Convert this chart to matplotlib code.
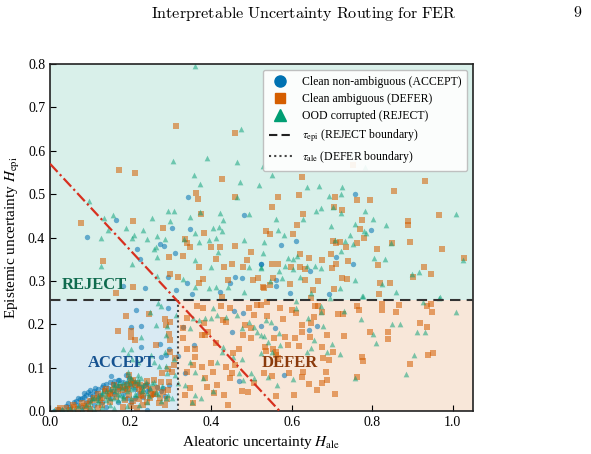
import matplotlib
matplotlib.use('Agg')
import matplotlib.pyplot as plt
from matplotlib.lines import Line2D

plt.rcParams['font.family'] = ['Liberation Serif', 'DejaVu Serif']
plt.rcParams['mathtext.fontset'] = 'stix'

# thresholds / boundary line
tau_epi = 0.255
tau_ale = 0.318
line_icept = 0.57

# Clean non-ambiguous (ACCEPT) - blue circles
accept_x = [0.342, 0.165, 0.481, 0.303, 0.347, 0.091, 0.273, 0.284, 0.311, 0.215, 0.223, 0.294, 0.339, 0.182,
            0.235, 0.314, 0.353, 0.422, 0.459, 0.476, 0.523, 0.447,
            0.758, 0.797, 0.611, 0.574, 0.711, 0.753, 0.646, 0.562, 0.561, 0.596, 0.692, 0.524,
            0.213, 0.292, 0.202, 0.226, 0.225, 0.273, 0.295, 0.289, 0.318, 0.329, 0.357, 0.151, 0.172, 0.189,
            0.240, 0.157, 0.132, 0.112, 0.099, 0.085, 0.070, 0.045, 0.281, 0.240, 0.451, 0.470, 0.480, 0.457,
            0.335, 0.275,
            0.558, 0.644, 0.662, 0.581, 0.524,
            0.02, 0.04, 0.06, 0.08, 0.09, 0.10, 0.11, 0.12, 0.13, 0.14, 0.15, 0.16, 0.17, 0.18, 0.19, 0.20,
            0.21, 0.22, 0.23, 0.05, 0.07, 0.09, 0.10, 0.12, 0.13, 0.15, 0.16, 0.17, 0.18, 0.19, 0.20, 0.03,
            0.01, 0.08, 0.11, 0.14, 0.17, 0.21, 0.24,
            0.105, 0.115, 0.125, 0.135, 0.145, 0.155, 0.165, 0.175, 0.185, 0.195, 0.205, 0.215, 0.225, 0.235,
            0.245, 0.255, 0.265, 0.275, 0.285, 0.295, 0.065, 0.075, 0.085, 0.095]
accept_y = [0.493, 0.440, 0.452, 0.423, 0.419, 0.402, 0.384, 0.380, 0.365, 0.373, 0.350, 0.310, 0.296, 0.288,
            0.284, 0.279, 0.270, 0.274, 0.310, 0.306, 0.339, 0.296,
            0.500, 0.417, 0.393, 0.382, 0.354, 0.340, 0.322, 0.302, 0.289, 0.273, 0.270, 0.339,
            0.233, 0.237, 0.193, 0.197, 0.148, 0.154, 0.144, 0.129, 0.127, 0.193, 0.152, 0.081, 0.071, 0.083,
            0.062, 0.062, 0.060, 0.054, 0.048, 0.041, 0.029, 0.018, 0.052, 0.002, 0.181, 0.070, 0.225, 0.231,
            0.087, 0.124,
            0.192, 0.187, 0.197, 0.083, 0.196,
            0.005, 0.012, 0.020, 0.030, 0.036, 0.040, 0.046, 0.050, 0.056, 0.062, 0.066, 0.070, 0.072, 0.068,
            0.064, 0.058, 0.050, 0.042, 0.032, 0.010, 0.015, 0.020, 0.025, 0.030, 0.020, 0.030, 0.040, 0.050,
            0.040, 0.030, 0.020, 0.003, 0.001, 0.010, 0.015, 0.010, 0.020, 0.030, 0.045,
            0.035, 0.042, 0.038, 0.048, 0.054, 0.045, 0.060, 0.058, 0.052, 0.075, 0.066, 0.062, 0.055, 0.060,
            0.050, 0.040, 0.056, 0.045, 0.035, 0.060, 0.024, 0.027, 0.033, 0.044]

# Clean ambiguous (DEFER) - orange squares
defer_x = [0.313, 0.460,
           0.172, 0.212, 0.428, 0.362, 0.368, 0.460, 0.375, 0.207, 0.076, 0.280, 0.382, 0.336, 0.339, 0.348,
           0.399, 0.422, 0.460, 0.498, 0.295, 0.331, 0.411, 0.131, 0.371, 0.433, 0.453, 0.478, 0.488, 0.517,
           0.503, 0.380, 0.369, 0.318, 0.299, 0.205, 0.529, 0.165, 0.428, 0.443,
           0.753, 0.626, 0.931, 0.567, 0.617, 0.708, 0.763, 0.795, 0.855, 0.550, 0.628, 0.704, 0.724, 0.966,
           0.888, 0.889, 0.774, 0.614, 0.537, 0.547, 0.604, 0.770, 0.780, 0.703, 0.710, 0.720, 0.736, 0.763,
           0.848, 0.894, 0.811, 0.974, 0.620, 0.644, 0.675, 0.698, 0.739, 0.710, 0.550, 0.567, 0.598, 0.620,
           0.632, 0.699, 0.814, 0.929, 0.945, 0.901, 0.666, 0.634, 0.726, 0.738, 0.595, 0.546, 0.530, 0.704,
           0.818, 0.845, 0.653, 0.817, 0.554, 1.027,
           0.188, 0.246, 0.286, 0.299, 0.170, 0.201, 0.201, 0.212, 0.289, 0.295, 0.298, 0.263, 0.298, 0.311,
           0.309, 0.277, 0.294, 0.303, 0.275, 0.296, 0.197, 0.259, 0.294, 0.273, 0.197, 0.226, 0.251, 0.285,
           0.261, 0.192, 0.182, 0.149, 0.207, 0.240, 0.256, 0.232, 0.215, 0.058, 0.025,
           0.329, 0.329, 0.339, 0.364, 0.380, 0.383, 0.386, 0.392, 0.339, 0.361, 0.356, 0.377, 0.385, 0.340,
           0.404, 0.414, 0.347, 0.356, 0.389, 0.408, 0.432, 0.441, 0.476, 0.491, 0.506, 0.447, 0.452, 0.459,
           0.470, 0.478, 0.484, 0.498, 0.506, 0.514, 0.495, 0.525, 0.448, 0.424, 0.430, 0.438, 0.500, 0.412,
           0.377, 0.361, 0.335, 0.399, 0.438, 0.455,
           0.538, 0.571, 0.600, 0.610, 0.579, 0.539, 0.625, 0.647, 0.655, 0.676, 0.666, 0.715, 0.728, 0.761,
           0.767, 0.825, 0.825, 0.859, 0.866, 0.935, 0.949, 0.945, 0.918, 0.935, 0.840, 0.840, 0.795, 0.730,
           0.688, 0.645, 0.625, 0.608, 0.619, 0.590, 0.556, 0.533, 0.535, 0.554, 0.562, 0.561, 0.567, 0.583,
           0.674, 0.703, 0.692, 0.677, 0.775, 0.776, 0.950, 0.939, 0.893, 0.629, 0.625, 0.594, 0.550, 0.532,
           0.685, 0.687, 0.675, 0.644, 0.662, 0.708, 0.606, 0.561, 0.763, 0.649, 0.658,
           0.02, 0.04, 0.06, 0.08, 0.10, 0.11, 0.12, 0.13, 0.14, 0.15, 0.16, 0.17, 0.18, 0.19, 0.20, 0.21,
           0.22, 0.23, 0.24, 0.25, 0.13, 0.09, 0.15, 0.18, 0.20, 0.22, 0.05, 0.07, 0.10, 0.12,
           0.207, 0.215, 0.223, 0.202, 0.194, 0.157, 0.136, 0.110, 0.125, 0.145, 0.165, 0.175, 0.185, 0.228,
           0.238, 0.248, 0.265, 0.270, 0.280, 0.290, 0.085, 0.095]
defer_y = [0.658, 0.640,
           0.556, 0.548, 0.536, 0.502, 0.488, 0.493, 0.454, 0.437, 0.433, 0.423, 0.411, 0.397, 0.388, 0.377,
           0.378, 0.377, 0.380, 0.366, 0.354, 0.358, 0.350, 0.346, 0.331, 0.331, 0.338, 0.333, 0.348, 0.306,
           0.302, 0.304, 0.296, 0.310, 0.315, 0.287, 0.286, 0.271, 0.262, 0.302,
           0.568, 0.540, 0.530, 0.493, 0.497, 0.493, 0.486, 0.486, 0.507, 0.470, 0.454, 0.470, 0.463, 0.451,
           0.437, 0.428, 0.440, 0.428, 0.415, 0.407, 0.407, 0.419, 0.400, 0.391, 0.387, 0.390, 0.377, 0.387,
           0.388, 0.389, 0.374, 0.373, 0.361, 0.352, 0.347, 0.361, 0.345, 0.338, 0.340, 0.338, 0.332, 0.331,
           0.327, 0.329, 0.336, 0.332, 0.315, 0.310, 0.299, 0.302, 0.306, 0.305, 0.293, 0.290, 0.284, 0.281,
           0.295, 0.296, 0.279, 0.270, 0.306, 0.352,
           0.220, 0.224, 0.211, 0.206, 0.184, 0.184, 0.170, 0.164, 0.198, 0.177, 0.164, 0.152, 0.137, 0.123,
           0.106, 0.087, 0.097, 0.089, 0.066, 0.066, 0.083, 0.071, 0.048, 0.031, 0.037, 0.037, 0.037, 0.014,
           0.040, 0.061, 0.048, 0.042, 0.023, 0.021, 0.039, 0.014, 0.006, 0.014, 0.006,
           0.191, 0.168, 0.214, 0.241, 0.237, 0.202, 0.175, 0.183, 0.144, 0.125, 0.106, 0.102, 0.075, 0.089,
           0.091, 0.060, 0.052, 0.019, 0.056, 0.041, 0.037, 0.014, 0.045, 0.043, 0.064, 0.075, 0.088, 0.106,
           0.144, 0.175, 0.198, 0.191, 0.221, 0.244, 0.237, 0.244, 0.238, 0.242, 0.210, 0.206, 0.168, 0.156,
           0.175, 0.144, 0.037, 0.110, 0.102, 0.133,
           0.252, 0.237, 0.233, 0.225, 0.212, 0.220, 0.198, 0.202, 0.217, 0.229, 0.241, 0.223, 0.223, 0.243,
           0.233, 0.246, 0.233, 0.229, 0.244, 0.241, 0.228, 0.246, 0.204, 0.193, 0.181, 0.166, 0.181, 0.172,
           0.175, 0.171, 0.183, 0.168, 0.151, 0.152, 0.168, 0.148, 0.138, 0.144, 0.137, 0.129, 0.123, 0.171,
           0.147, 0.137, 0.118, 0.123, 0.124, 0.116, 0.133, 0.128, 0.108, 0.089, 0.079, 0.087, 0.081, 0.087,
           0.091, 0.071, 0.065, 0.063, 0.048, 0.039, 0.038, 0.035, 0.079, 0.260, 0.241,
           0.003, 0.006, 0.010, 0.018, 0.022, 0.025, 0.040, 0.030, 0.050, 0.040, 0.060, 0.045, 0.055, 0.050,
           0.070, 0.060, 0.050, 0.035, 0.070, 0.050, 0.015, 0.008, 0.020, 0.010, 0.012, 0.028, 0.002, 0.004,
           0.005, 0.008,
           0.071, 0.064, 0.060, 0.062, 0.050, 0.048, 0.045, 0.030, 0.026, 0.035, 0.033, 0.055, 0.025, 0.045,
           0.058, 0.030, 0.052, 0.018, 0.043, 0.028, 0.012, 0.016]

# OOD corrupted (REJECT) - green triangles
reject_x = [0.360, 0.475, 0.390, 0.465,
            0.306, 0.358, 0.373, 0.471, 0.519, 0.096, 0.156, 0.292, 0.309, 0.372, 0.423, 0.494, 0.253, 0.299,
            0.347, 0.188, 0.232, 0.135, 0.145, 0.429, 0.420, 0.405, 0.126, 0.209, 0.242, 0.266, 0.285, 0.361,
            0.394, 0.412, 0.428, 0.481, 0.531, 0.263, 0.259, 0.333, 0.371, 0.418, 0.361, 0.203, 0.265, 0.126,
            0.400, 0.495, 0.523, 0.266, 0.331, 0.361, 0.411, 0.481, 0.395, 0.441, 0.204, 0.463,
            0.528, 0.550, 0.781, 0.637, 0.667, 0.725, 0.692, 0.722, 0.672, 0.660, 0.629, 0.561, 0.702, 0.723,
            0.781, 0.801, 0.757, 0.697, 0.833, 0.566, 0.581, 0.744, 0.780, 0.784, 0.707, 0.732, 0.751, 0.722,
            0.847, 0.529, 0.591, 0.602, 0.613, 0.804, 0.831, 1.026, 1.007, 0.583, 0.603, 0.639, 0.658, 0.672,
            0.568, 0.576, 0.620, 0.648, 0.720, 0.756, 0.824, 0.859, 0.899, 0.917, 0.775, 0.968, 0.546, 0.523,
            0.248, 0.267, 0.275, 0.313, 0.264, 0.291, 0.288, 0.227, 0.180, 0.201, 0.193, 0.204, 0.218, 0.251,
            0.259, 0.270, 0.288, 0.291, 0.308, 0.285, 0.193, 0.218, 0.252, 0.262, 0.294, 0.303, 0.240, 0.213,
            0.182, 0.174, 0.161,
            0.347, 0.356, 0.371, 0.386, 0.400, 0.405, 0.414, 0.436, 0.463, 0.476, 0.495, 0.506, 0.514, 0.523,
            0.347, 0.361, 0.380, 0.414, 0.428, 0.430, 0.455, 0.476, 0.470, 0.500, 0.480, 0.506, 0.336, 0.361,
            0.374, 0.353, 0.404, 0.310, 0.317,
            0.610, 0.672, 0.610, 0.672, 0.730, 0.641, 0.678, 0.771, 0.849, 0.868, 0.910, 0.931, 0.802, 0.810,
            0.656, 0.649, 0.637, 0.701, 0.721, 0.687, 0.903, 0.883, 0.757, 0.604, 0.564, 0.542, 0.532, 0.536,
            0.548, 0.569, 0.571, 0.542, 0.550, 0.525, 1.009, 0.777, 0.966, 0.695, 0.926,
            0.01, 0.03, 0.05, 0.07, 0.09, 0.10, 0.11, 0.12, 0.13, 0.14, 0.15, 0.16, 0.17, 0.18, 0.19, 0.20,
            0.21, 0.22, 0.20, 0.19, 0.18, 0.16, 0.14, 0.12, 0.10, 0.08, 0.13, 0.15, 0.17, 0.21, 0.23, 0.24,
            0.22, 0.06, 0.04, 0.11, 0.16, 0.19, 0.20, 0.23,
            0.105, 0.118, 0.128, 0.138, 0.148, 0.158, 0.168, 0.178, 0.188, 0.198, 0.208, 0.218, 0.228, 0.238,
            0.248, 0.258, 0.268, 0.278, 0.288, 0.172, 0.196, 0.226, 0.246, 0.276]
reject_y = [0.796, 0.650, 0.584, 0.573,
            0.577, 0.544, 0.523, 0.529, 0.521, 0.485, 0.452, 0.462, 0.462, 0.458, 0.456, 0.454, 0.444, 0.437,
            0.447, 0.421, 0.417, 0.444, 0.417, 0.440, 0.425, 0.423, 0.400, 0.406, 0.396, 0.403, 0.397, 0.410,
            0.394, 0.398, 0.415, 0.394, 0.390, 0.377, 0.373, 0.396, 0.390, 0.367, 0.347, 0.339, 0.354, 0.334,
            0.333, 0.333, 0.329, 0.311, 0.305, 0.287, 0.287, 0.275, 0.283, 0.287, 0.400, 0.493,
            0.565, 0.544, 0.562, 0.517, 0.519, 0.516, 0.496, 0.500, 0.469, 0.460, 0.443, 0.443, 0.470, 0.456,
            0.462, 0.443, 0.430, 0.427, 0.429, 0.417, 0.406, 0.406, 0.416, 0.410, 0.394, 0.392, 0.384, 0.370,
            0.387, 0.365, 0.353, 0.350, 0.357, 0.353, 0.350, 0.347, 0.455, 0.335, 0.328, 0.334, 0.334, 0.330,
            0.323, 0.306, 0.309, 0.273, 0.283, 0.301, 0.293, 0.274, 0.316, 0.320, 0.265, 0.262, 0.299, 0.331,
            0.229, 0.248, 0.241, 0.221, 0.198, 0.196, 0.175, 0.171, 0.143, 0.142, 0.131, 0.121, 0.114, 0.128,
            0.114, 0.104, 0.104, 0.087, 0.121, 0.137, 0.091, 0.083, 0.064, 0.043, 0.037, 0.029, 0.041, 0.037,
            0.029, 0.037, 0.045,
            0.191, 0.214, 0.210, 0.214, 0.214, 0.237, 0.221, 0.216, 0.221, 0.191, 0.206, 0.194, 0.183, 0.175,
            0.114, 0.091, 0.075, 0.114, 0.137, 0.147, 0.125, 0.121, 0.087, 0.087, 0.071, 0.075, 0.060, 0.037,
            0.029, 0.021, 0.047, 0.083, 0.064,
            0.254, 0.241, 0.238, 0.228, 0.231, 0.214, 0.197, 0.212, 0.201, 0.201, 0.181, 0.181, 0.177, 0.156,
            0.164, 0.146, 0.137, 0.154, 0.131, 0.135, 0.129, 0.085, 0.075, 0.073, 0.059, 0.079, 0.174, 0.210,
            0.206, 0.179, 0.152, 0.160, 0.135, 0.133, 0.229, 0.264, 0.260, 0.261, 0.252,
            0.002, 0.005, 0.008, 0.012, 0.015, 0.020, 0.030, 0.035, 0.040, 0.045, 0.050, 0.055, 0.060, 0.065,
            0.070, 0.075, 0.070, 0.065, 0.050, 0.045, 0.035, 0.030, 0.025, 0.020, 0.010, 0.005, 0.010, 0.015,
            0.025, 0.040, 0.050, 0.020, 0.015, 0.003, 0.002, 0.005, 0.008, 0.012, 0.030, 0.060,
            0.030, 0.026, 0.044, 0.035, 0.030, 0.062, 0.040, 0.052, 0.058, 0.064, 0.056, 0.073, 0.046, 0.068,
            0.052, 0.066, 0.040, 0.058, 0.030, 0.068, 0.080, 0.075, 0.035, 0.024]

c_blue, c_orange, c_green = '#0072B2', '#D55E00', '#009E73'
x_max, y_max = 1.05, 0.8

fig = plt.figure(figsize=(5.91, 4.54), dpi=100)
ax = fig.add_axes([0.0846, 0.0947, 0.7157, 0.7643])

# decision regions
ax.fill_between([0, x_max], tau_epi, y_max, color=c_green, alpha=0.15, lw=0, zorder=0)
ax.fill_between([0, tau_ale], 0, tau_epi, color=c_blue, alpha=0.15, lw=0, zorder=0)
ax.fill_between([tau_ale, x_max], 0, tau_epi, color=c_orange, alpha=0.15, lw=0, zorder=0)

ax.scatter(accept_x, accept_y, s=15, marker='o', color=c_blue, alpha=0.55, lw=0, zorder=2)
ax.scatter(defer_x, defer_y, s=15, marker='s', color=c_orange, alpha=0.55, lw=0, zorder=2)
ax.scatter(reject_x, reject_y, s=17, marker='^', color=c_green, alpha=0.5, lw=0, zorder=2)

ax.axhline(tau_epi, color='#333333', ls=(0, (5, 3)), lw=1.5, zorder=3)
ax.plot([tau_ale, tau_ale], [0, tau_epi], color='#444444', ls=(0, (1, 1.5)), lw=1.5, zorder=3)
ax.plot([0, x_max], [line_icept, line_icept - x_max], color='#d7301f', ls=(0, (5, 1.5, 1, 1.5)), lw=1.6, zorder=3)

ax.text(0.03, 0.29, 'REJECT', color='#0f6b4e', fontsize=12, fontweight='bold', va='center', zorder=4)
ax.text(0.094, 0.11, 'ACCEPT', color='#155290', fontsize=12, fontweight='bold', va='center', zorder=4)
ax.text(0.526, 0.11, 'DEFER', color='#8a3a0c', fontsize=12, fontweight='bold', va='center', zorder=4)

ax.set_xlim(0, x_max)
ax.set_ylim(0, y_max)
ax.set_xticks([0.0, 0.2, 0.4, 0.6, 0.8, 1.0])
ax.set_yticks([0.0, 0.1, 0.2, 0.3, 0.4, 0.5, 0.6, 0.7, 0.8])
ax.tick_params(direction='in', length=4, labelsize=10)
for sp in ax.spines.values():
    sp.set_linewidth(1.2)
    sp.set_color('#222222')
ax.xaxis.set_label_text(r'Aleatoric uncertainty $H_{\mathrm{ale}}$', fontsize=11)
ax.yaxis.set_label_text(r'Epistemic uncertainty $H_{\mathrm{epi}}$', fontsize=11)

handles = [
    Line2D([], [], marker='o', color=c_blue, ls='none', markersize=8),
    Line2D([], [], marker='s', color=c_orange, ls='none', markersize=7),
    Line2D([], [], marker='^', color=c_green, ls='none', markersize=8),
    Line2D([], [], color='#222222', ls=(0, (4, 2)), lw=1.5),
    Line2D([], [], color='#444444', ls=(0, (1, 1.5)), lw=1.5),
]
labels = ['Clean non-ambiguous (ACCEPT)', 'Clean ambiguous (DEFER)', 'OOD corrupted (REJECT)',
          r'$\tau_{\mathrm{epi}}$ (REJECT boundary)', r'$\tau_{\mathrm{ale}}$ (DEFER boundary)']
leg = ax.legend(handles, labels, loc='upper right', fontsize=8.5, framealpha=0.9, edgecolor='#bbbbbb',
                handlelength=2.0, borderpad=0.5, labelspacing=0.45)
leg.set_zorder(5)

fig.text(0.514, 0.971, r'$\mathrm{Interpretable\ Uncertainty\ Routing\ for\ FER}$', ha='center', va='center',
         fontsize=11.6, math_fontfamily='cm')
fig.text(0.978, 0.971, r'$\mathrm{9}$', ha='center', va='center', fontsize=11.6, math_fontfamily='cm')

fig.savefig('out.png', dpi=100)
